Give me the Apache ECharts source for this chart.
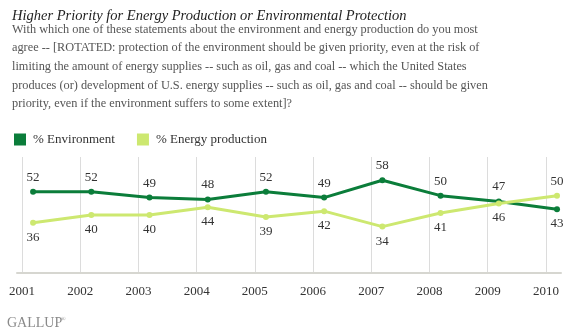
<!DOCTYPE html>
<html>
<head>
<meta charset="utf-8">
<script src="https://cdn.jsdelivr.net/npm/echarts@6/dist/echarts.min.js"></script>
<style>
  html, body { margin: 0; padding: 0; background: #fff; }
  #chart { width: 568px; height: 334px; }
</style>
</head>
<body>
<div id="chart"></div>
<script>
// Survey years and results (%), fieldwork each spring
const years = [2001, 2002, 2003, 2004, 2005, 2006, 2007, 2008, 2009, 2010];
const fieldOffset = 0.19; // survey taken in early March of each year
const environment = [52, 52, 49, 48, 52, 49, 58, 50, 47, 43];
const energy = [36, 40, 40, 44, 39, 42, 34, 41, 46, 50];
// label placement: true = above the point
const envAbove = [true, true, true, true, true, true, true, true, true, false];
const energyAbove = [false, false, false, false, false, false, false, false, false, true];

const title = 'Higher Priority for Energy Production or Environmental Protection';
const question = [
  'With which one of these statements about the environment and energy production do you most',
  'agree -- [ROTATED: protection of the environment should be given priority, even at the risk of',
  'limiting the amount of energy supplies -- such as oil, gas and coal -- which the United States',
  'produces (or) development of U.S. energy supplies -- such as oil, gas and coal -- should be given',
  'priority, even if the environment suffers to some extent]?'
];

const DARK = '#0b7d3a';
const LIGHT = '#cde870';
const SERIF = '"Liberation Serif", serif';

function seriesData(vals, above) {
  return vals.map((v, i) => ({
    value: [years[i] + fieldOffset, v],
    label: { position: above[i] ? 'top' : 'bottom' }
  }));
}

const chart = echarts.init(document.getElementById('chart'), null, { renderer: 'canvas' });
chart.setOption({
  animation: false,
  backgroundColor: '#fff',
  title: [
    {
      text: title,
      left: 7, top: 4,
      textStyle: { fontFamily: SERIF, fontStyle: 'italic', fontWeight: 'normal', fontSize: 14.5, color: '#222' }
    },
    {
      text: question.join('\n'),
      left: 7, top: 15,
      textStyle: { fontFamily: SERIF, fontWeight: 'normal', fontSize: 12.3, color: '#555', lineHeight: 18.7 }
    }
  ],
  legend: {
    left: 9, top: 128,
    itemWidth: 12, itemHeight: 12, itemGap: 22,
    icon: 'rect',
    textStyle: { fontFamily: SERIF, fontSize: 13, color: '#333', padding: [0, 0, 0, 2] },
    data: ['% Environment', '% Energy production']
  },
  grid: { left: 17, right: 7, top: 157, bottom: 61 },
  xAxis: {
    type: 'value',
    min: 2001 - 5 / 58,
    max: 2010 + 15 / 58,
    axisLine: { show: true, lineStyle: { color: '#d6d6d0', width: 2 } },
    axisTick: { show: false, customValues: years },
    axisLabel: {
      customValues: years,
      formatter: v => String(Math.round(v)),
      fontFamily: SERIF, fontSize: 13, color: '#333', margin: 12
    },
    splitLine: { show: true, lineStyle: { color: '#dcdcdc', width: 1 } }
  },
  yAxis: {
    type: 'value', min: 10, max: 70,
    show: false,
    splitLine: { show: false }
  },
  series: [
    {
      name: '% Environment', type: 'line',
      data: seriesData(environment, envAbove),
      itemStyle: { color: DARK },
      lineStyle: { color: DARK, width: 3 },
      symbol: 'circle', symbolSize: 6,
      label: { show: true, formatter: p => p.value[1], distance: 5,
        fontFamily: SERIF, fontSize: 13, color: '#333' },
      z: 3
    },
    {
      name: '% Energy production', type: 'line',
      data: seriesData(energy, energyAbove),
      itemStyle: { color: LIGHT },
      lineStyle: { color: LIGHT, width: 3 },
      symbol: 'circle', symbolSize: 6,
      label: { show: true, formatter: p => p.value[1], distance: 5,
        fontFamily: SERIF, fontSize: 13, color: '#333' },
      z: 4
    }
  ],
  graphic: [
    {
      type: 'text', left: 7, top: 316,
      style: { text: 'GALLUP', font: '14px "Liberation Serif", serif', fill: '#8a8a8a' }
    },
    {
      type: 'text', left: 61, top: 316,
      style: { text: '®', font: '6px "Liberation Serif", serif', fill: '#8a8a8a' }
    }
  ]
});
</script>
</body>
</html>
